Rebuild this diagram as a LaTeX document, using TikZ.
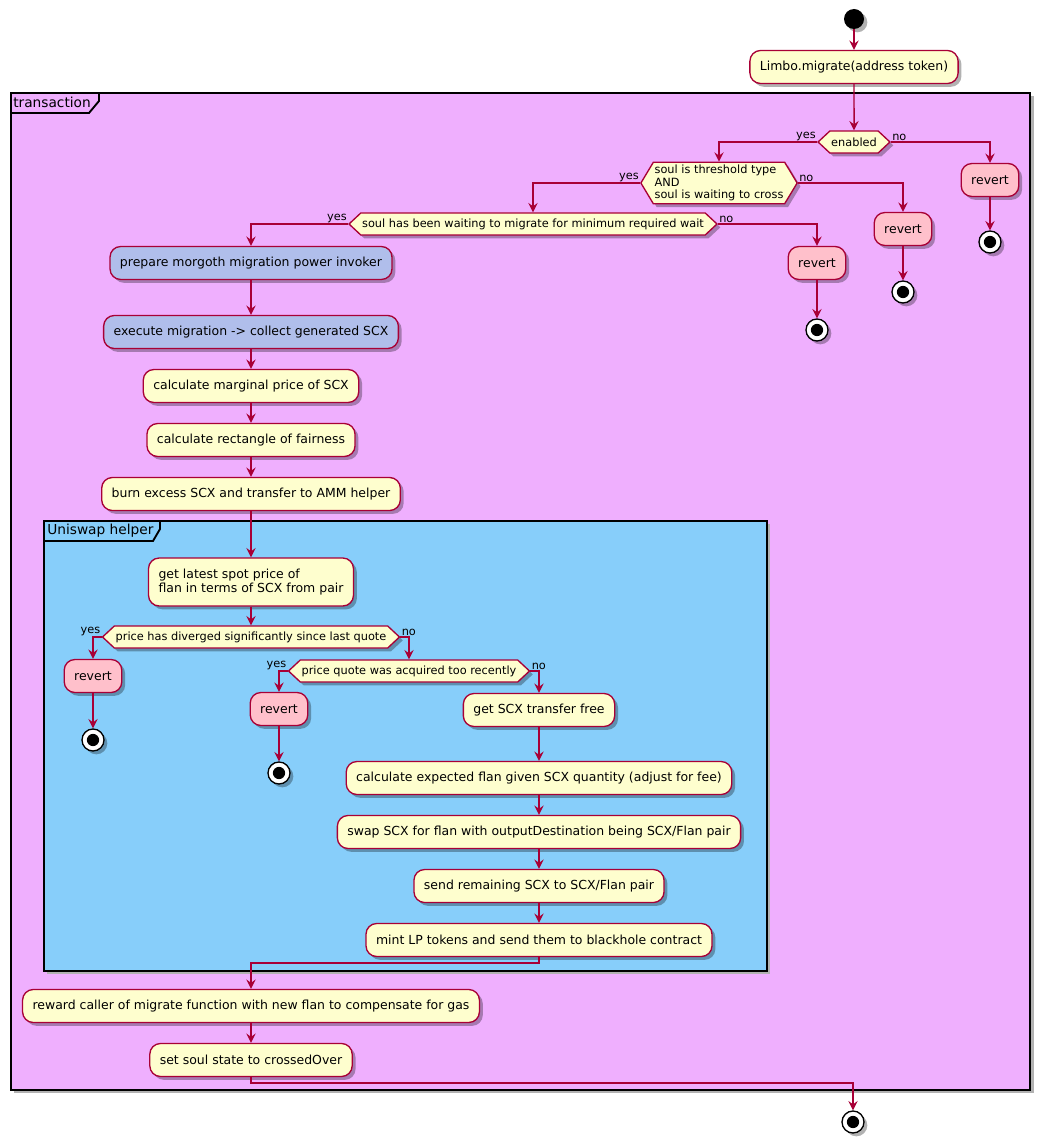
\documentclass[tikz,border=0pt]{standalone}
\usepackage{fontspec}
\setmainfont{DejaVu Sans}
\usetikzlibrary{shapes.symbols, shadows, arrows.meta}
\definecolor{umlline}{HTML}{A80036}
\definecolor{umlfill}{HTML}{FEFECE}
\definecolor{revfill}{HTML}{FFC0CB}
\definecolor{morfill}{HTML}{B0BEEB}
\definecolor{txfill}{HTML}{EFAFFE}
\definecolor{unifill}{HTML}{87CEFA}
\tikzset{
    umlshadow/.style={drop shadow={shadow xshift=2.5pt, shadow yshift=-2.5pt, opacity=0.3, fill=black}},
    act/.style={draw=umlline, fill=umlfill, line width=1pt, rounded corners=8pt, minimum height=24.75pt, inner xsep=7.5pt, font=\fontsize{9.35}{10.8}\selectfont, umlshadow},
    revert/.style={act, fill=revfill},
    morgoth/.style={act, fill=morfill},
    cond/.style={draw=umlline, fill=umlfill, line width=1pt, signal, signal to=west and east, signal pointer angle=86, minimum height=16.5pt, inner xsep=1pt, inner ysep=2pt, font=\fontsize{8.5}{9.4}\selectfont, umlshadow},
    lbl/.style={font=\fontsize{8.5}{9.4}\selectfont, inner sep=0.8pt},
    start/.style={circle, fill=black, minimum size=15pt, inner sep=0pt, umlshadow},
    stopnode/.style={circle, draw=black, line width=1pt, fill=white, minimum size=16.5pt, inner sep=0pt, umlshadow,
        path picture={\fill[black] (path picture bounding box.center) circle (4.6pt);}},
    flow/.style={draw=umlline, line width=1.1pt, -{Stealth[length=7pt, width=7pt, inset=2.5pt]}},
    frame/.style={draw=black, line width=1.4pt},
    frametitle/.style={anchor=west, inner sep=0pt, font=\fontsize{10.3}{11}\selectfont}
}

\begin{document}
\begin{tikzpicture}[x=0.75pt, y=-0.75pt]
    \useasboundingbox (0,0) rectangle (1046,1148);

    % frames
    \fill[black!30] (14,96) rectangle (1034,1093);
    \fill[txfill, frame] (11,93) rectangle (1030,1090);
    \draw[frame] (11,113) -- (89,113) -- (99,101) -- (99,93);
    \node[frametitle] (txlabel) at (13,102) {transaction};
    \fill[black!30] (47,524) rectangle (770,974);
    \fill[unifill, frame] (44,521) rectangle (767,971);
    \draw[frame] (44,541) -- (153,541) -- (160,529) -- (160,521);
    \node[frametitle] (unilabel) at (47,531) {Uniswap helper};

    % start and checks
    \node[start] (init) at (854,19) {};
    \node[act] (migrate) at (854,67) {Limbo.migrate(address token)};
    \node[cond] (enabled) at (854,142) {enabled};
    \node[revert] (rev1) at (990,180) {revert};
    \node[stopnode] (stop1) at (990,242) {};
    \node[cond, signal pointer angle=118, align=left] (thresh) at (719,183) {soul is threshold type\\AND\\soul is waiting to cross};
    \node[revert] (rev2) at (903,229) {revert};
    \node[stopnode] (stop2) at (903,292) {};
    \node[cond] (waited) at (533,224) {soul has been waiting to migrate for minimum required wait};
    \node[revert] (rev3) at (817,263) {revert};
    \node[stopnode] (stop3) at (817,330) {};

    % migration
    \node[morgoth] (prepare) at (251,263) {prepare morgoth migration power invoker};
    \node[morgoth] (execute) at (251,332) {execute migration -> collect generated SCX};
    \node[act] (marginal) at (251,386) {calculate marginal price of SCX};
    \node[act] (fairness) at (251,440) {calculate rectangle of fairness};
    \node[act] (burn) at (251,494) {burn excess SCX and transfer to AMM helper};

    % uniswap helper
    \node[act, align=left, minimum height=36pt] (spot) at (251,582) {get latest spot price of\\flan in terms of SCX from pair};
    \node[cond] (diverged) at (251,637) {price has diverged significantly since last quote};
    \node[revert] (rev4) at (93,676) {revert};
    \node[stopnode] (stop4) at (93,740) {};
    \node[cond] (recent) at (409,671) {price quote was acquired too recently};
    \node[revert] (rev5) at (279,709) {revert};
    \node[stopnode] (stop5) at (279,773) {};
    \node[act] (fee) at (539,710) {get SCX transfer free};
    \node[act] (expected) at (539,778) {calculate expected flan given SCX quantity (adjust for fee)};
    \node[act] (swap) at (539,832) {swap SCX for flan with outputDestination being SCX/Flan pair};
    \node[act] (remaining) at (539,886) {send remaining SCX to SCX/Flan pair};
    \node[act] (mint) at (539,940) {mint LP tokens and send them to blackhole contract};

    % finish
    \node[act] (reward) at (251,1006) {reward caller of migrate function with new flan to compensate for gas};
    \node[act] (crossed) at (251,1060) {set soul state to crossedOver};
    \node[stopnode] (finish) at (853,1122) {};
    \coordinate (joinA) at (251,963);
    \coordinate (joinB) at (853,1083);

    % branch labels
    \node[lbl, anchor=south east] (yes1) at (enabled.west) {yes};
    \node[lbl, anchor=south west] (no1) at (enabled.east) {no};
    \node[lbl, anchor=south east] (yes2) at (thresh.west) {yes};
    \node[lbl, anchor=south west] (no2) at (thresh.east) {no};
    \node[lbl, anchor=south east] (yes3) at (waited.west) {yes};
    \node[lbl, anchor=south west] (no3) at (waited.east) {no};
    \node[lbl, anchor=south east] (yes4) at (diverged.west) {yes};
    \node[lbl, anchor=south west] (no4) at (diverged.east) {no};
    \node[lbl, anchor=south east] (yes5) at (recent.west) {yes};
    \node[lbl, anchor=south west] (no5) at (recent.east) {no};

    % connectors
    \draw[flow] (init) -- (migrate);
    \draw[flow] (migrate) -- (enabled);
    \draw[flow] (enabled.west) -| (thresh.north);
    \draw[flow] (enabled.east) -| (rev1.north);
    \draw[flow] (thresh.west) -| (waited.north);
    \draw[flow] (thresh.east) -| (rev2.north);
    \draw[flow] (waited.west) -| (prepare.north);
    \draw[flow] (waited.east) -| (rev3.north);
    \draw[flow] (diverged.west) -| (rev4.north);
    \draw[flow] (diverged.east) -| (recent.north);
    \draw[flow] (recent.west) -| (rev5.north);
    \draw[flow] (recent.east) -| (fee.north);
    \foreach \a/\b in {rev1/stop1, rev2/stop2, rev3/stop3, rev4/stop4, rev5/stop5,
        prepare/execute, execute/marginal, marginal/fairness, fairness/burn, burn/spot, spot/diverged,
        fee/expected, expected/swap, swap/remaining, remaining/mint, reward/crossed}
        \draw[flow] (\a.south) -- (\b.north);
    \draw[flow] (mint.south) |- (joinA) -- (reward.north);
    \draw[flow] (crossed.south) |- (joinB) -- (finish.north);
\end{tikzpicture}
\end{document}
